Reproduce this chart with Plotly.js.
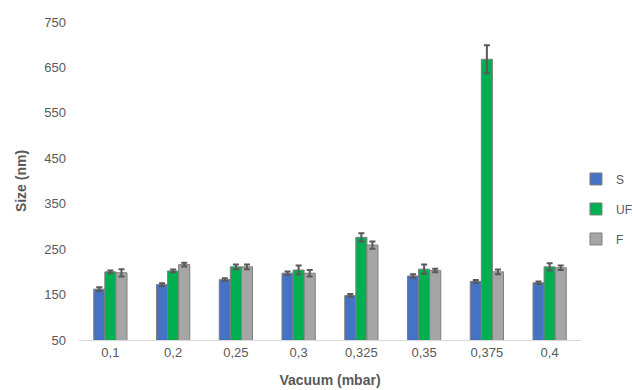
<!DOCTYPE html>
<html><head><meta charset="utf-8">
<script src="https://cdn.plot.ly/plotly-3.0.1.min.js"></script>
<style>html,body{margin:0;padding:0;background:#fff}</style>
</head><body>
<div id="chart" style="width:632px;height:390px"></div>
<script>
var categories = ["0,1","0,2","0,25","0,3","0,325","0,35","0,375","0,4"];
var sValues  = [162, 172, 183, 197, 148, 191, 179, 176];
var sErrors  = [4, 3, 3, 4, 3, 4, 3, 3];
var ufValues = [200, 202, 211, 204, 276, 206, 668, 211];
var ufErrors = [3, 3, 5, 10, 9, 10, 31, 8];
var fValues  = [198, 216, 211, 197, 259, 203, 200, 209];
var fErrors  = [8, 4, 5, 7, 8, 4, 5, 5];
var seriesNames = ["S", "UF", "F"];
var colors = ["#4472C4", "#00B050", "#A5A5A5"];

function mk(name, vals, errs, color, grp){
  return {
    type: "bar", name: name, x: categories, y: vals,
    legendgroup: grp,
    marker: {color: color, line: {color: "#7F7F7F", width: 1}},
    error_y: {type: "data", array: errs, visible: true, color: "#595959", thickness: 2, width: 3}
  };
}
var data = [
  mk(seriesNames[0], sValues, sErrors, colors[0], "a"),
  mk(seriesNames[1], ufValues, ufErrors, colors[1], "b"),
  mk(seriesNames[2], fValues, fErrors, colors[2], "c")
];
var layout = {
  width: 632, height: 390,
  margin: {l: 79, r: 51, t: 22, b: 50, autoexpand: false},
  paper_bgcolor: "#fff", plot_bgcolor: "#fff",
  font: {family: "Liberation Sans, Arial, sans-serif", color: "#595959", size: 13},
  barmode: "group", bargap: 0.47, bargroupgap: 0,
  showlegend: true,
  legend: {x: 0.99, y: 0.412, xanchor: "left", yanchor: "middle",
           font: {size: 12, color: "#595959"}, tracegroupgap: 11, bgcolor: "rgba(0,0,0,0)"},
  xaxis: {
    type: "category", showgrid: false, showline: true, linecolor: "#D9D9D9", linewidth: 1,
    ticks: "", tickfont: {size: 13, color: "#595959"}, automargin: false,
    title: {text: "<b>Vacuum (mbar)</b>", font: {size: 14, color: "#595959"}, standoff: 16}
  },
  yaxis: {
    range: [50, 750], tickvals: [50,150,250,350,450,550,650,750], showgrid: false,
    zeroline: false, showline: false, ticks: "", tickfont: {size: 13, color: "#595959"},
    ticklabelstandoff: 12, automargin: false,
    title: {text: "<b>Size (nm)</b>", font: {size: 14, color: "#595959"}, standoff: 14}
  }
};
Plotly.newPlot("chart", data, layout, {displayModeBar: false, staticPlot: true});
</script>
</body></html>
